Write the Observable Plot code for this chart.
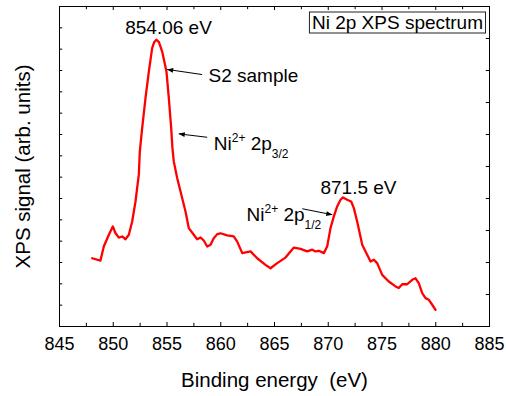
<!DOCTYPE html>
<html>
<head>
<meta charset="utf-8">
<script src="https://cdn.jsdelivr.net/npm/d3@7"></script>
<script src="https://cdn.jsdelivr.net/npm/@observablehq/plot@0.6"></script>
<style>
  body { margin: 0; background: #fff; }
  svg text { white-space: pre; }
</style>
</head>
<body>
<div id="chart"></div>
<script>
// Binding energy (eV) and XPS signal (arb. units)
const energy = [848.04,848.81,849.12,849.59,849.96,850.21,850.52,850.83,851.14,851.45,
  851.76,852.07,852.38,852.47,852.69,853.00,853.31,853.62,853.80,854.02,854.25,854.55,
  854.95,855.17,855.39,855.50,855.63,855.95,856.26,856.72,857.03,857.49,
  857.81,858.12,858.42,858.74,859.05,859.35,859.67,859.98,860.60,861.21,
  861.53,862.00,862.77,863.39,864.16,864.63,865.25,866.02,866.49,866.80,
  867.42,868.04,868.51,868.81,869.12,869.59,869.90,870.21,870.52,870.83,
  871.14,871.37,871.76,872.13,872.38,872.69,873.16,873.62,873.93,874.24,
  874.55,875.02,875.63,876.26,876.56,876.88,877.34,877.81,878.12,878.42,
  878.74,879.05,879.36,879.67,879.98];
const signal = [3.20,3.09,3.75,4.30,4.69,4.37,4.17,4.22,4.09,4.30,
  4.92,5.86,7.13,8.20,9.30,10.70,11.95,13.05,13.32,13.44,13.33,12.89,
  11.95,10.70,9.30,8.40,7.74,6.95,6.33,5.39,4.61,4.30,
  4.09,4.17,4.03,3.75,3.83,4.14,4.33,4.37,4.27,4.22,
  3.98,3.44,3.52,3.20,2.89,2.73,2.97,3.23,3.52,3.70,
  3.64,3.52,3.60,3.52,3.55,3.44,3.75,4.61,5.16,5.63,
  5.94,6.05,5.94,5.86,5.55,4.92,3.83,3.36,3.05,3.13,
  2.97,2.42,2.11,1.88,1.80,1.98,1.98,2.19,2.26,2.03,
  1.56,1.33,1.25,1.02,0.78];

// Axis ticks
const xTicks = [845,850,855,860,865,870,875,880,885];
const xMinorTicks = [847.5,852.5,857.5,862.5,867.5,872.5,877.5,882.5];
const yLeftTicks = [1,2,3,4,5,6,7,8,9,10,11,12,13,14];
const yRightTicks = [1.5,3,4.5,6,7.5,9,10.5,12,13.5];

// Titles
const xTitle = "Binding energy  (eV)";
const yTitle = "XPS signal (arb. units)";
const boxTitle = ["Ni 2p XPS spectrum"];
const boxTitleX = [876.44];
const boxTitleY = [14.23];

// Peak value labels (centered)
const peakText = ["854.06 eV","871.5 eV"];
const peakTextX = [855.14,872.81];
const peakTextY = [14.02,6.51];

// Side labels (left aligned)
const sideText = ["S2 sample","Ni2+ 2p3/2","Ni2+ 2p1/2"];
const sideTextX = [858.86,859.35,862.40];
const sideTextY = [11.74,8.54,5.22];

// Arrows (start -> end)
const arrowX1 = [858.27,858.74,867.58];
const arrowY1 = [11.81,8.87,5.52];
const arrowX2 = [855.02,856.10,870.37];
const arrowY2 = [12.05,9.03,5.24];

const idx = a => a.map((_, i) => i);

const chart = Plot.plot({
  width: 506,
  height: 396,
  marginLeft: 59,
  marginRight: 17,
  marginTop: 6,
  marginBottom: 70,
  style: {fontFamily: "'Liberation Sans', Arial, sans-serif", fontSize: "18px", color: "black", background: "white"},
  x: {domain: [845, 885]},
  y: {domain: [0, 15], axis: null},
  marks: [
    Plot.axisX({ticks: xTicks, tickSize: 0, tickPadding: 11, tickFormat: d => String(d), label: null, fontSize: 18}),
    Plot.frame({stroke: "black", strokeWidth: 1}),
    // inward ticks
    Plot.ruleX(xTicks, {x: d => d, y1: 0, y2: 0.19, stroke: "black"}),
    Plot.ruleX(xMinorTicks, {x: d => d, y1: 0, y2: 0.15, stroke: "black"}),
    Plot.ruleX(xTicks, {x: d => d, y1: 15, y2: 14.81, stroke: "black"}),
    Plot.ruleX(xMinorTicks, {x: d => d, y1: 15, y2: 14.85, stroke: "black"}),
    Plot.ruleY(yLeftTicks, {y: d => d, x1: 845, x2: 845.3, stroke: "black"}),
    Plot.ruleY(yRightTicks, {y: d => d, x1: 885, x2: 884.7, stroke: "black"}),
    // spectrum
    Plot.line(idx(energy), {x: i => energy[i], y: i => signal[i], stroke: "#ff0000", strokeWidth: 2.3, curve: "linear"}),
    // arrows
    Plot.link(idx(arrowX1), {x1: i => arrowX1[i], y1: i => arrowY1[i], x2: i => arrowX2[i], y2: i => arrowY2[i], stroke: "black", strokeWidth: 1, markerEnd: "arrow"}),
    // annotations
    Plot.text(idx(peakText), {x: i => peakTextX[i], y: i => peakTextY[i], text: i => peakText[i], textAnchor: "middle", fontSize: 19, fill: "black"}),
    Plot.text(idx(sideText), {x: i => sideTextX[i], y: i => sideTextY[i], text: i => sideText[i], textAnchor: "start", fontSize: 19, fill: "black"}),
    Plot.text(idx(boxTitle), {x: i => boxTitleX[i], y: i => boxTitleY[i], text: i => boxTitle[i], textAnchor: "middle", fontSize: 19, fill: "black"}),
    // axis titles
    Plot.text([xTitle], {frameAnchor: "bottom", dy: 54, text: d => d, textAnchor: "middle", lineAnchor: "middle", fontSize: 20.5, fill: "black"}),
    Plot.text([yTitle], {frameAnchor: "left", dx: -36, rotate: -90, text: d => d, textAnchor: "middle", lineAnchor: "middle", fontSize: 20.5, fill: "black"})
  ]
});

document.getElementById("chart").append(chart);

const svg = d3.select(chart);

// filled arrowheads
svg.selectAll("marker")
  .attr("viewBox", "-10 -5 11 10")
  .attr("markerWidth", 7.3)
  .attr("markerHeight", 6.7)
  .attr("overflow", "visible")
  .attr("fill", "black")
  .attr("stroke", "none")
  .selectAll("path")
  .attr("d", "M-9,-3.6L0.5,0L-9,3.6Z");

// superscripts / subscripts
svg.selectAll("text").each(function () {
  const m = this.textContent.match(/^(Ni)(2\+) (2p)(\d\/\d)$/);
  if (!m) return;
  const t = d3.select(this);
  t.text(null);
  t.append("tspan").text(m[1]);
  t.append("tspan").attr("font-size", 12).attr("dy", -8).text(m[2]);
  t.append("tspan").attr("font-size", 19).attr("dy", 8).text(" " + m[3]);
  t.append("tspan").attr("font-size", 12).attr("dy", 8).text(m[4]);
});

// box around the title
svg.selectAll("text").each(function () {
  if (this.textContent !== boxTitle[0]) return;
  const b = this.getBBox();
  const r = document.createElementNS("http://www.w3.org/2000/svg", "rect");
  r.setAttribute("x", b.x - 2.5);
  r.setAttribute("y", b.y);
  r.setAttribute("width", b.width + 5);
  r.setAttribute("height", b.height);
  r.setAttribute("fill", "none");
  r.setAttribute("stroke", "#222");
  r.setAttribute("stroke-width", 1);
  const tr = this.getAttribute("transform");
  if (tr) r.setAttribute("transform", tr);
  this.parentNode.insertBefore(r, this);
});
</script>
</body>
</html>
